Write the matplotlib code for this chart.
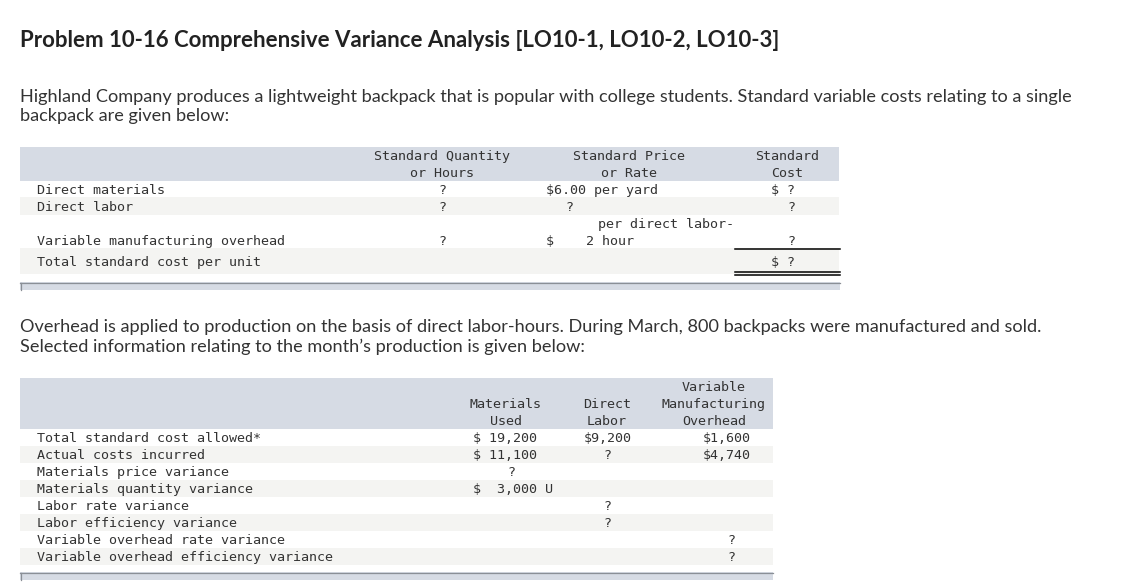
import matplotlib
matplotlib.use("Agg")
import matplotlib.pyplot as plt
from matplotlib.patches import Rectangle

# ---------------- data ----------------
title = "Problem 10-16 Comprehensive Variance Analysis [LO10-1, LO10-2, LO10-3]"
intro_lines = [
    "Highland Company produces a lightweight backpack that is popular with college students. Standard variable costs relating to a single",
    "backpack are given below:",
]
mid_lines = [
    "Overhead is applied to production on the basis of direct labor-hours. During March, 800 backpacks were manufactured and sold.",
    "Selected information relating to the month\u2019s production is given below:",
]

t1_headers = [["Standard Quantity", "or Hours"], ["Standard Price", "or Rate"], ["Standard", "Cost"]]
t1_rows = ["Direct materials", "Direct labor", "Variable manufacturing overhead", "Total standard cost per unit"]
t1_qty = ["?", "?", "?", ""]
t1_price = ["$6.00 per yard", "?", "$    2 hour", ""]
t1_price_extra = ["", "", "per direct labor-", ""]
t1_cost = ["$ ?", "?", "?", "$ ?"]

t2_headers = [["", "Materials", "Used"], ["", "Direct", "Labor"], ["Variable", "Manufacturing", "Overhead"]]
t2_rows = ["Total standard cost allowed*", "Actual costs incurred", "Materials price variance",
           "Materials quantity variance", "Labor rate variance", "Labor efficiency variance",
           "Variable overhead rate variance", "Variable overhead efficiency variance"]
t2_materials = ["$ 19,200", "$ 11,100", "?", "$  3,000 U", "", "", "", ""]
t2_labor = ["$9,200", "?", "", "", "?", "?", "", ""]
t2_overhead = ["$1,600", "$4,740", "", "", "", "", "?", "?"]

# ---------------- style ----------------
W, H = 1133, 586
HDR = "#d6dbe4"
ALT = "#f4f4f2"
BAR_EDGE = "#8a8f96"
TXT = "#333333"
MONO = "DejaVu Sans Mono"
MS = 9.6
DY = 1.2  # vertical nudge for mono text

fig = plt.figure(figsize=(W / 100, H / 100), dpi=100)
fig.patch.set_facecolor("white")
ax = fig.add_axes([0, 0, 1, 1])
ax.set_xlim(0, W)
ax.set_ylim(H, 0)
ax.axis("off")
renderer = fig.canvas.get_renderer()


def fit_text(s, x, y, width, **kw):
    t = ax.text(x, y, s, va="center", ha="left", **kw)
    fs = t.get_fontsize()
    bb = t.get_window_extent(renderer=renderer)
    t.set_fontsize(fs * width / bb.width)
    return t


def rect(x0, y0, x1, y1, color, **kw):
    ax.add_patch(Rectangle((x0, y0), x1 - x0, y1 - y0, facecolor=color, edgecolor="none", **kw))


def mono(s, x, y, ha="left"):
    ax.text(x, y + DY, s, fontfamily=MONO, fontsize=MS, color=TXT, ha=ha, va="center")


# title and paragraphs
fit_text(title, 20, 40.5, 763, fontfamily="Lato", fontweight="bold", fontsize=15, color="#222222")
t0 = fit_text(intro_lines[0], 20, 97, 1047, fontfamily="Lato", fontsize=12, color=TXT)
fs_body = t0.get_fontsize()
ax.text(20, 116, intro_lines[1], fontfamily="Lato", fontsize=fs_body, color=TXT, va="center")
for i, line in enumerate(mid_lines):
    ax.text(20, 327 + 20 * i, line, fontfamily="Lato", fontsize=fs_body, color=TXT, va="center")

# ---------------- table 1 ----------------
rect(20, 147, 839, 181, HDR)
rect(20, 197, 839, 214.5, ALT)
rect(20, 248, 839, 274, ALT)
rect(20, 282, 840, 290, HDR)
ax.plot([20, 840], [282.5, 282.5], color=BAR_EDGE, lw=0.9)
ax.plot([20.5, 20.5], [282.5, 290], color=BAR_EDGE, lw=0.9)

hx = [442, 629, 787]
for cx, (l1, l2) in zip(hx, t1_headers):
    mono(l1, cx, 155, ha="center")
    mono(l2, cx, 172, ha="center")

row_y1 = [189, 206, 240, 261]
for i, lab in enumerate(t1_rows):
    mono(lab, 37, row_y1[i])
    if t1_qty[i]:
        mono(t1_qty[i], 442, row_y1[i], ha="center")
    if t1_price[i]:
        if t1_price[i] == "?":
            mono("?", 569, row_y1[i], ha="center")
        else:
            mono(t1_price[i], 546, row_y1[i])
    if t1_price_extra[i]:
        mono(t1_price_extra[i], 598, row_y1[i] - 17)
    mono(t1_cost[i], 795, row_y1[i], ha="right")

ax.plot([735, 840], [248.5, 248.5], color="black", lw=1.1)
ax.plot([735, 840], [272, 272], color="black", lw=1.1)
ax.plot([735, 840], [275, 275], color="black", lw=1.1)

# ---------------- table 2 ----------------
rect(20, 378, 773, 429, HDR)
for k in range(1, 8, 2):
    y0 = 429 + 17 * k
    rect(20, y0, 773, y0 + 17, ALT)
rect(20, 572, 773, 580, HDR)
ax.plot([20, 773], [572.5, 572.5], color=BAR_EDGE, lw=0.9)
ax.plot([20.5, 20.5], [572.5, 580], color=BAR_EDGE, lw=0.9)

h2x = [506, 607, 714]
for cx, lines in zip(h2x, t2_headers):
    for j, s in enumerate(lines):
        if s:
            mono(s, cx, 386 + 17 * j, ha="center")

for i, lab in enumerate(t2_rows):
    y = 437 + 17 * i
    mono(lab, 37, y)
    m = t2_materials[i]
    if m == "?":
        mono(m, 511, y, ha="center")
    elif m:
        mono(m, 473, y)
    l = t2_labor[i]
    if l == "?":
        mono(l, 607, y, ha="center")
    elif l:
        mono(l, 584, y)
    o = t2_overhead[i]
    if o == "?":
        mono(o, 731, y, ha="center")
    elif o:
        mono(o, 703, y)

fig.savefig("out.png", dpi=100, facecolor="white")
